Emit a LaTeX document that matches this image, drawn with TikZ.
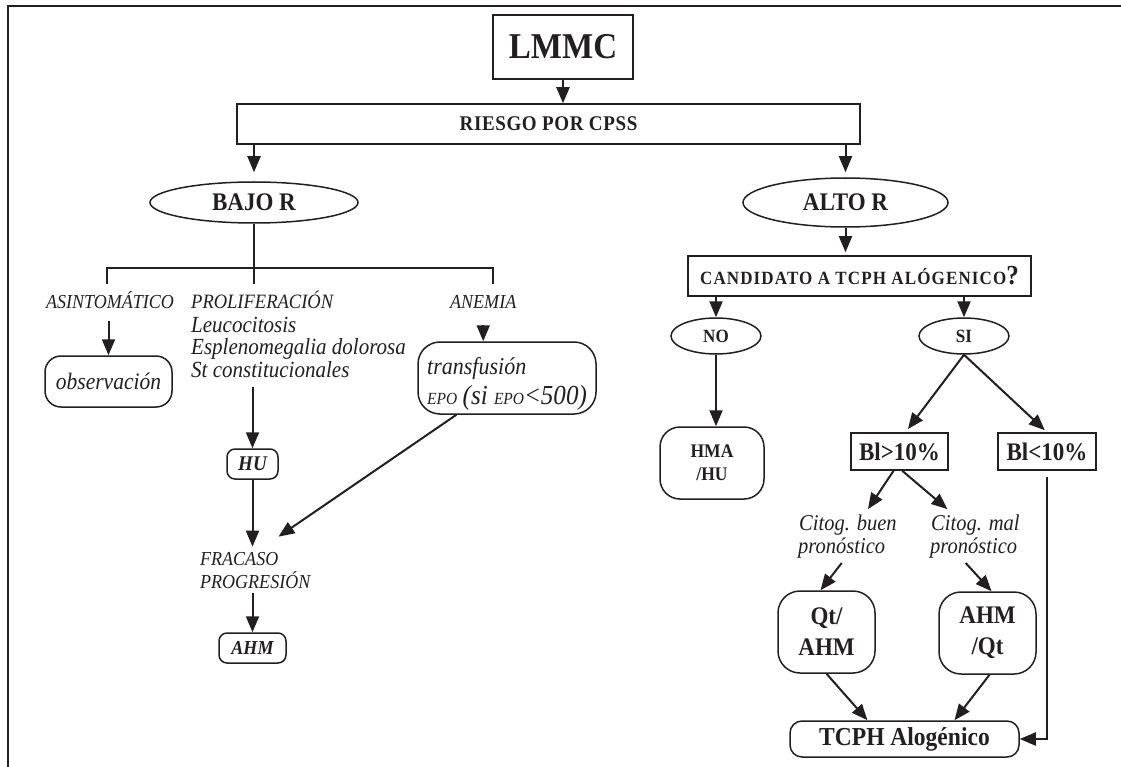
\documentclass[tikz,border=0pt]{standalone}
\usepackage{fontspec}
\setmainfont{Liberation Serif}[FakeStretch=0.91]
\usetikzlibrary{shapes.geometric,arrows.meta,calc}
\definecolor{ink}{HTML}{231F20}
\newcommand\fsz[1]{\fontsize{#1}{#1}\selectfont}
\begin{document}
\begin{tikzpicture}[x=1pt,y=-1pt,
  ln/.style={draw=ink,line width=2pt},
  arr/.style={ln,-{Triangle[length=16pt,width=13pt]}},
  box/.style={draw=ink,line width=1.5pt,inner sep=0pt,text=ink,align=center},
  rbox/.style={box,rounded corners=16pt},
  ell/.style={box,ellipse},
  txt/.style={inner xsep=0pt,inner ysep=5pt,text=ink,anchor=base west}]
\useasboundingbox (0,0) rectangle (1121,767);
\draw[draw=ink,line width=1.6pt] (8,767) -- (8,6) -- (1121,6);

% top
\node[box,minimum width=140pt,minimum height=64pt,font=\fsz{36.3}\bfseries] (lmmc) at (563,47) {LMMC};
\node[box,minimum width=623pt,minimum height=40pt,font=\fsz{20.9}\bfseries\addfontfeature{LetterSpace=3}] (riesgo) at (548.5,124) {RIESGO POR CPSS};
\node[ell,minimum width=208pt,minimum height=41pt,font=\fsz{25.3}\bfseries] (bajo) at (254,202.5) {BAJO R};
\node[ell,minimum width=205pt,minimum height=49pt,font=\fsz{25.3}\bfseries] (alto) at (845.5,202.5) {ALTO R};
\draw[arr] (lmmc.south) -- (lmmc.south |- riesgo.north);
\draw[arr,shorten >=9pt] (riesgo.south -| bajo.north) -- (bajo.north);
\draw[arr,shorten >=5pt] (riesgo.south -| alto.north) -- (alto.north);

% left branch bar
\coordinate (bl) at (107,268);
\coordinate (dl) at (107,284);
\coordinate (br) at (493,268);
\coordinate (dr) at (493,284);
\draw[ln] (bajo.south) -- (bajo.south |- dl);
\draw[ln] (dl) -- (bl) -- (br) -- (dr);

\node[txt,font=\fsz{19.8}\itshape] (asin) at (46,308) {ASINTOMÁTICO};
\node[txt,font=\fsz{20.35}\itshape] (prol) at (191,308) {PROLIFERACIÓN};
\node[txt,font=\fsz{23.1}\itshape] (leuc) at (191,332) {Leucocitosis};
\node[txt,font=\fsz{23.1}\itshape] (espl) at (191,354) {Esplenomegalia dolorosa};
\node[txt,font=\fsz{23.1}\itshape] (stc) at (191,377) {St constitucionales};
\node[txt,font=\fsz{19.8}\itshape] (anem) at (450,308) {ANEMIA};

\node[rbox,minimum width=127pt,minimum height=51pt,font=\fsz{23.65}\itshape] (obs) at (108.5,381.5) {observación};
\draw[arr,shorten <=8pt] (asin.south -| obs.north) -- (obs.north);

\node[rbox,rounded corners=8pt,minimum width=51pt,minimum height=30pt,font=\fsz{20.9}\bfseries\itshape] (hu) at (252.5,464) {HU};
\draw[arr,shorten <=5pt] (stc.south -| hu.north) -- (hu.north);

\node[rbox,rounded corners=22pt,minimum width=178pt,minimum height=72pt,align=left,font=\fontsize{24.2}{30}\selectfont\itshape] (trans) at (507,378) {\rule{0pt}{29pt}transfusión\\{\fsz{17}EPO} {\fsz{27.5}(si }{\fsz{17}EPO}{\fsz{27.5}<500)}};
\draw[arr,shorten <=12pt] (anem.south) -- (anem.south |- trans.north);

\node[txt,font=\fsz{19.8}\itshape] (frac1) at (200,565) {FRACASO};
\node[txt,font=\fsz{19.8}\itshape] (frac2) at (200,588) {PROGRESIÓN};
\draw[arr] (hu.south) -- (hu.south |- frac1.north);
\draw[arr] (trans.216) -- ($(frac1.north east)+(0,-10)$);
\node[rbox,rounded corners=8pt,minimum width=67pt,minimum height=30pt,font=\fsz{19.8}\bfseries\itshape] (ahm) at (252.5,648) {AHM};
\draw[arr] (ahm.north |- frac2.south) -- (ahm.north);

% right branch
\node[box,minimum width=343pt,minimum height=40pt,font=\fsz{18.7}\bfseries] (cand) at (859.5,276) {{\addfontfeature{LetterSpace=6}CANDIDATO A TCPH ALÓGENICO}{\fsz{27.5}?}};
\draw[arr,shorten >=3pt] (alto.south) -- (alto.south |- cand.north);
\node[ell,minimum width=90pt,minimum height=36pt,font=\fsz{18.7}\bfseries] (no) at (716,336) {NO};
\node[ell,minimum width=90pt,minimum height=36pt,font=\fsz{18.7}\bfseries] (si) at (964,336) {SI};
\draw[arr] (cand.south -| no.north) -- (no.north);
\draw[arr] (cand.south -| si.north) -- (si.north);

\node[rbox,rounded corners=20pt,minimum width=104pt,minimum height=72pt,font=\fontsize{19.25}{23}\selectfont\bfseries] (hma) at (712,463) {HMA\\/HU};
\draw[arr] (no.south) -- (no.south |- hma.north);

\node[box,minimum width=97pt,minimum height=37pt,font=\fsz{25.3}\bfseries] (gt) at (899.5,451.5) {Bl>10\%};
\node[box,minimum width=98pt,minimum height=37pt,font=\fsz{25.3}\bfseries] (lt) at (1047,451.5) {Bl<10\%};
\draw[arr,shorten >=4pt] (si.south) -- ($(gt.north)+(6,0)$);
\draw[arr,shorten >=3pt] (si.south) -- (lt.north);

\node[txt,font=\fsz{22.55}\itshape] (buen1) at (799,530) {Citog. buen};
\node[txt,font=\fsz{22.55}\itshape] (buen2) at (798,553) {pronóstico};
\node[txt,font=\fsz{22.55}\itshape] (mal1) at (931,530) {Citog. mal};
\node[txt,font=\fsz{22.55}\itshape] (mal2) at (930,553) {pronóstico};
\draw[arr] (gt.253) -- ($(buen1.north)+(20,0)$);
\draw[arr] (gt.278) -- ($(mal1.north)+(-28,0)$);

\node[rbox,rounded corners=22pt,minimum width=97pt,minimum height=82pt,font=\fontsize{25.3}{31}\selectfont\bfseries] (qt) at (826.5,632) {Qt/\\AHM};
\node[rbox,rounded corners=22pt,minimum width=97pt,minimum height=82pt,font=\fontsize{25.3}{31}\selectfont\bfseries] (aq) at (987.5,633) {AHM\\/Qt};
\draw[arr] (buen2.south) -- ($(qt.north)+(-6,0)$);
\draw[arr] ($(mal2.south)+(-8,0)$) -- ($(aq.north)+(4,0)$);

\node[rbox,rounded corners=12pt,minimum width=229pt,minimum height=36pt,font=\fsz{25.85}\bfseries] (tcph) at (904.5,739) {TCPH Alogénico};
\draw[arr] (qt.south) -- ($(tcph.north)+(-37,0)$);
\draw[arr] ($(aq.south)+(2,0)$) -- ($(tcph.north)+(50,0)$);
\draw[arr,shorten <=6pt] (lt.south) -- (lt.south |- tcph.east) -- (tcph.east);
\end{tikzpicture}
\end{document}
